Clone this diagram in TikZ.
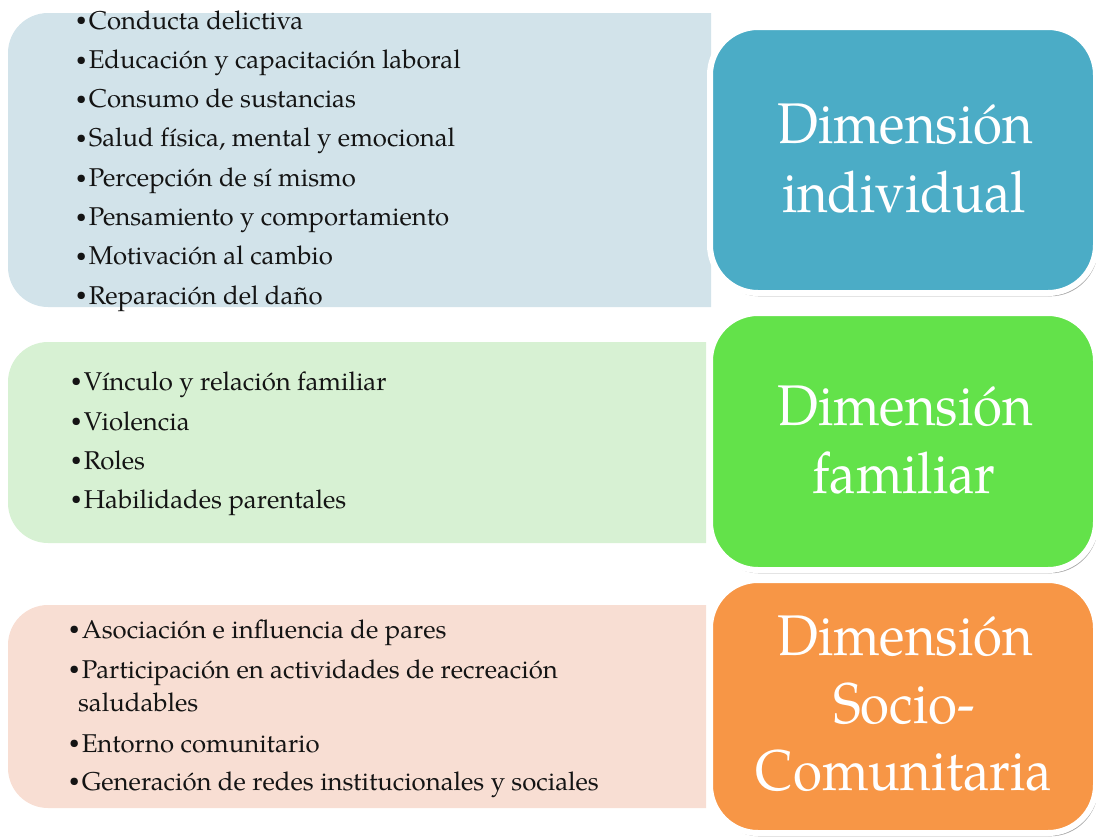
\documentclass[tikz,border=0pt]{standalone}
\usepackage{fontspec}
\usepackage{graphicx}
\setmainfont{TeX Gyre Pagella}
\newfontfamily\dimfont[FakeStretch=0.92]{TeX Gyre Pagella}
\usetikzlibrary{shadows}
\definecolor{bluepanel}{RGB}{210,227,234}
\definecolor{bluebox}{RGB}{75,172,198}
\definecolor{greenpanel}{RGB}{215,241,211}
\definecolor{greenbox}{RGB}{99,226,74}
\definecolor{orangepanel}{RGB}{248,222,211}
\definecolor{orangebox}{RGB}{247,150,70}
\definecolor{itemtext}{RGB}{20,20,20}
\newcommand{\itembul}{\raisebox{0.25ex}{\scalebox{0.72}{\textbullet}}\kern1.8pt}
\begin{document}
\begin{tikzpicture}[x=0.75pt,y=-0.75pt,
  item/.style={anchor=base west, inner sep=0pt, outer sep=0pt, font=\fontsize{19.3}{23}\selectfont, text=itemtext},
  dimbox/.style={rectangle, rounded corners=36pt, draw=white, line width=4.5pt, minimum width=289.5pt, inner sep=0pt, outer sep=0pt, drop shadow={shadow xshift=1.5pt, shadow yshift=-2.5pt, opacity=0.35, fill=black}},
  dimtext/.style={anchor=base, inner sep=0pt, outer sep=0pt, font=\dimfont\fontsize{43}{49}\selectfont, text=white},
  panel/.style={rounded corners=30pt}]
\useasboundingbox (0,0) rectangle (1096,836);
% panels
\begin{scope}
  \clip (0,0) rectangle (711,836);
  \fill[bluepanel, panel] (8,13) rectangle (780,307);
\end{scope}
\begin{scope}
  \clip (0,0) rectangle (706,836);
  \fill[greenpanel, panel] (8,342) rectangle (780,543);
\end{scope}
\begin{scope}
  \clip (0,0) rectangle (706,836);
  \fill[orangepanel, panel] (8,605) rectangle (780,808);
\end{scope}
% dimension boxes
\node[dimbox, fill=bluebox, minimum height=199.5pt] (bi) at (903,160) {};
\node[dimbox, fill=greenbox, minimum height=192.75pt] (bf) at (903,441.5) {};
\node[dimbox, fill=orangebox, minimum height=189.75pt] (bs) at (903,706.5) {};
\node[dimtext] (ti1) at (905,143) {Dimensión};
\node[dimtext] (ti2) at (904,212) {individual};
\node[dimtext] (tf1) at (905,425) {Dimensión};
\node[dimtext] (tf2) at (904,493) {familiar};
\node[dimtext] (ts1) at (905,655) {Dimensión};
\node[dimtext] (ts2) at (904,723) {Socio-};
\node[dimtext] (ts3) at (904,790) {Comunitaria};
% individual items
\node[item] (i1) at (76,29) {\itembul Conducta delictiva};
\node[item] (i2) at (76,68.3) {\itembul Educación y capacitación laboral};
\node[item] (i3) at (76,107.6) {\itembul Consumo de sustancias};
\node[item] (i4) at (76,146.9) {\itembul Salud física, mental y emocional};
\node[item] (i5) at (76,186.2) {\itembul Percepción de sí mismo};
\node[item] (i6) at (76,225.5) {\itembul Pensamiento y comportamiento};
\node[item] (i7) at (76,264.8) {\itembul Motivación al cambio};
\node[item] (i8) at (76,304) {\itembul Reparación del daño};
% familiar items
\node[item] (f1) at (71,390) {\itembul Vínculo y relación familiar};
\node[item] (f2) at (71,430) {\itembul Violencia};
\node[item] (f3) at (71,469) {\itembul Roles};
\node[item] (f4) at (71,508) {\itembul Habilidades parentales};
% socio-comunitaria items
\node[item] (s1) at (69,638) {\itembul Asociación e influencia de pares};
\node[item] (s2) at (69,678) {\itembul Participación en actividades de recreación};
\node[item] (s2b) at (78,711) {saludables};
\node[item] (s3) at (69,752) {\itembul Entorno comunitario};
\node[item] (s4) at (69,790) {\itembul Generación de redes institucionales y sociales};
\end{tikzpicture}
\end{document}
